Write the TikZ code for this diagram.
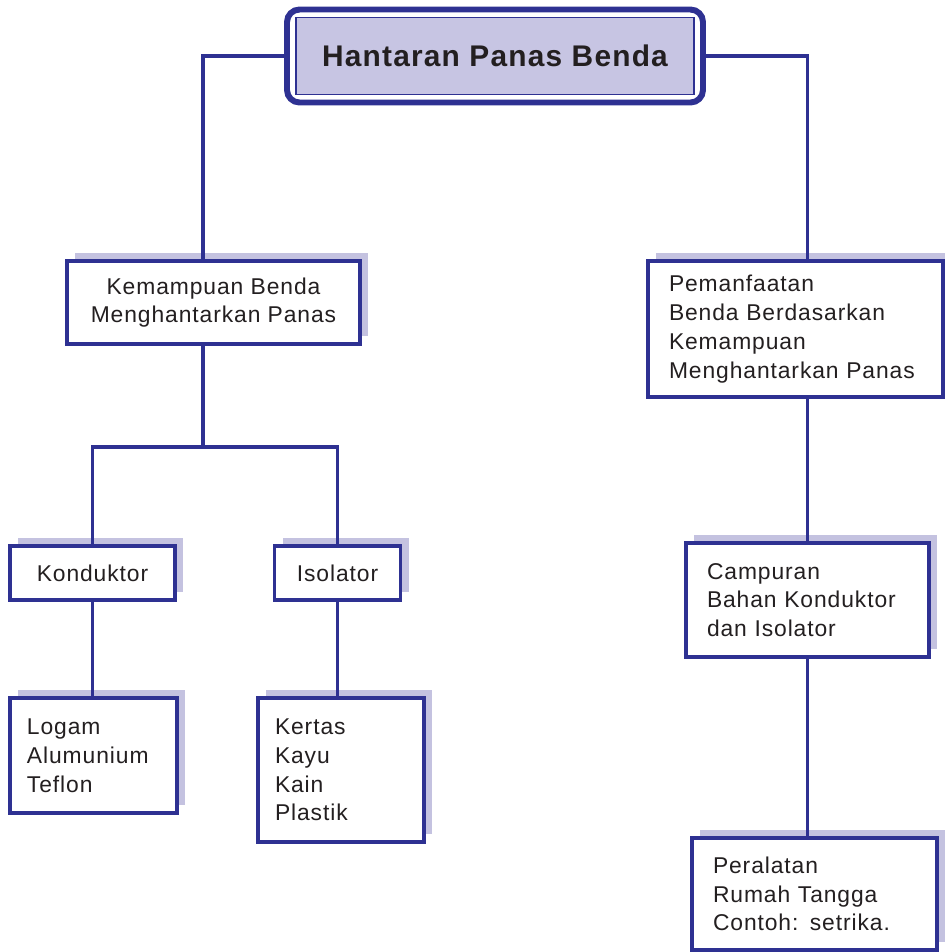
\documentclass[tikz,border=0pt]{standalone}
\usepackage{fontspec}
\setmainfont{Liberation Sans}
\newfontfamily\bodyfont[LetterSpace=4]{Liberation Sans}
\usetikzlibrary{shadows}
\definecolor{navy}{HTML}{2E3192}
\definecolor{shade}{HTML}{C4C2E0}
\definecolor{topfill}{HTML}{C7C5E3}
\definecolor{ink}{HTML}{231F20}

\begin{document}
\begin{tikzpicture}[
    box/.style={rectangle,draw=navy,line width=2pt,fill=white,text=ink,
      font=\bodyfont\fontsize{13}{16.4}\selectfont,
      drop shadow={shadow xshift=0.16cm,shadow yshift=0.16cm,fill=shade,opacity=1}},
    cbox/.style={box,align=center,inner sep=0pt},
    lbox/.style={box,align=left,inner xsep=0.42cm,inner ysep=0pt},
    frame/.style={rectangle,rounded corners=0.25cm,draw=navy,line width=3.4pt,fill=white,
      minimum width=8.32cm,minimum height=1.86cm},
    headbox/.style={rectangle,draw=navy,line width=0.8pt,fill=topfill,text=ink,
      minimum width=7.96cm,minimum height=1.54cm,
      font=\bodyfont\bfseries\fontsize{17}{20}\selectfont},
    link/.style={draw=navy,line width=2.2pt}]

\useasboundingbox (0,0) rectangle (18.9,-19.04);

% title
\node[frame] (top) at (9.90,-1.12) {};
\node[headbox] (title) at (9.90,-1.12) {Hantaran Panas Benda};

% left branch
\node[cbox,minimum width=5.86cm,minimum height=1.66cm] (kem) at (4.27,-6.05) {Kemampuan Benda\\Menghantarkan Panas};
\node[cbox,minimum width=3.30cm,minimum height=1.08cm] (kon) at (1.85,-11.46) {Konduktor};
\node[cbox,minimum width=2.52cm,minimum height=1.08cm] (iso) at (6.75,-11.46) {Isolator};
\node[lbox,inner xsep=0.34cm,text width=2.66cm,minimum height=2.30cm] (log) at (1.87,-15.11) {Logam\\Alumunium\\Teflon};
\node[lbox,inner xsep=0.34cm,text width=2.64cm,minimum height=2.88cm] (ker) at (6.82,-15.40) {Kertas\\Kayu\\Kain\\Plastik};

% right branch
\node[lbox,text width=5.06cm,minimum height=2.72cm] (pem) at (15.91,-6.58) {Pemanfaatan\\Benda Berdasarkan\\Kemampuan\\Menghantarkan Panas};
\node[lbox,text width=4.02cm,minimum height=2.28cm] (cam) at (16.15,-12.00) {Campuran\\Bahan Konduktor\\dan Isolator};
\node[lbox,text width=4.06cm,minimum height=2.24cm] (per) at (16.29,-17.88) {Peralatan\\Rumah Tangga\\Contoh: setrika.};

% connectors
\coordinate (split) at (4.06,-8.94);
\draw[link] (top.west) -| (kem.north -| split);
\draw[link] (kem.south -| split) -- (split);
\draw[link] (kon.north) |- (split) -| (iso.north);
\draw[link] (kon.south) -- (log.north -| kon.south);
\draw[link] (iso.south) -- (ker.north -| iso.south);

\draw[link] (top.east) -| (pem.north -| cam.north);
\draw[link] (pem.south -| cam.north) -- (cam.north);
\draw[link] (cam.south) -- (per.north -| cam.south);

\end{tikzpicture}
\end{document}
